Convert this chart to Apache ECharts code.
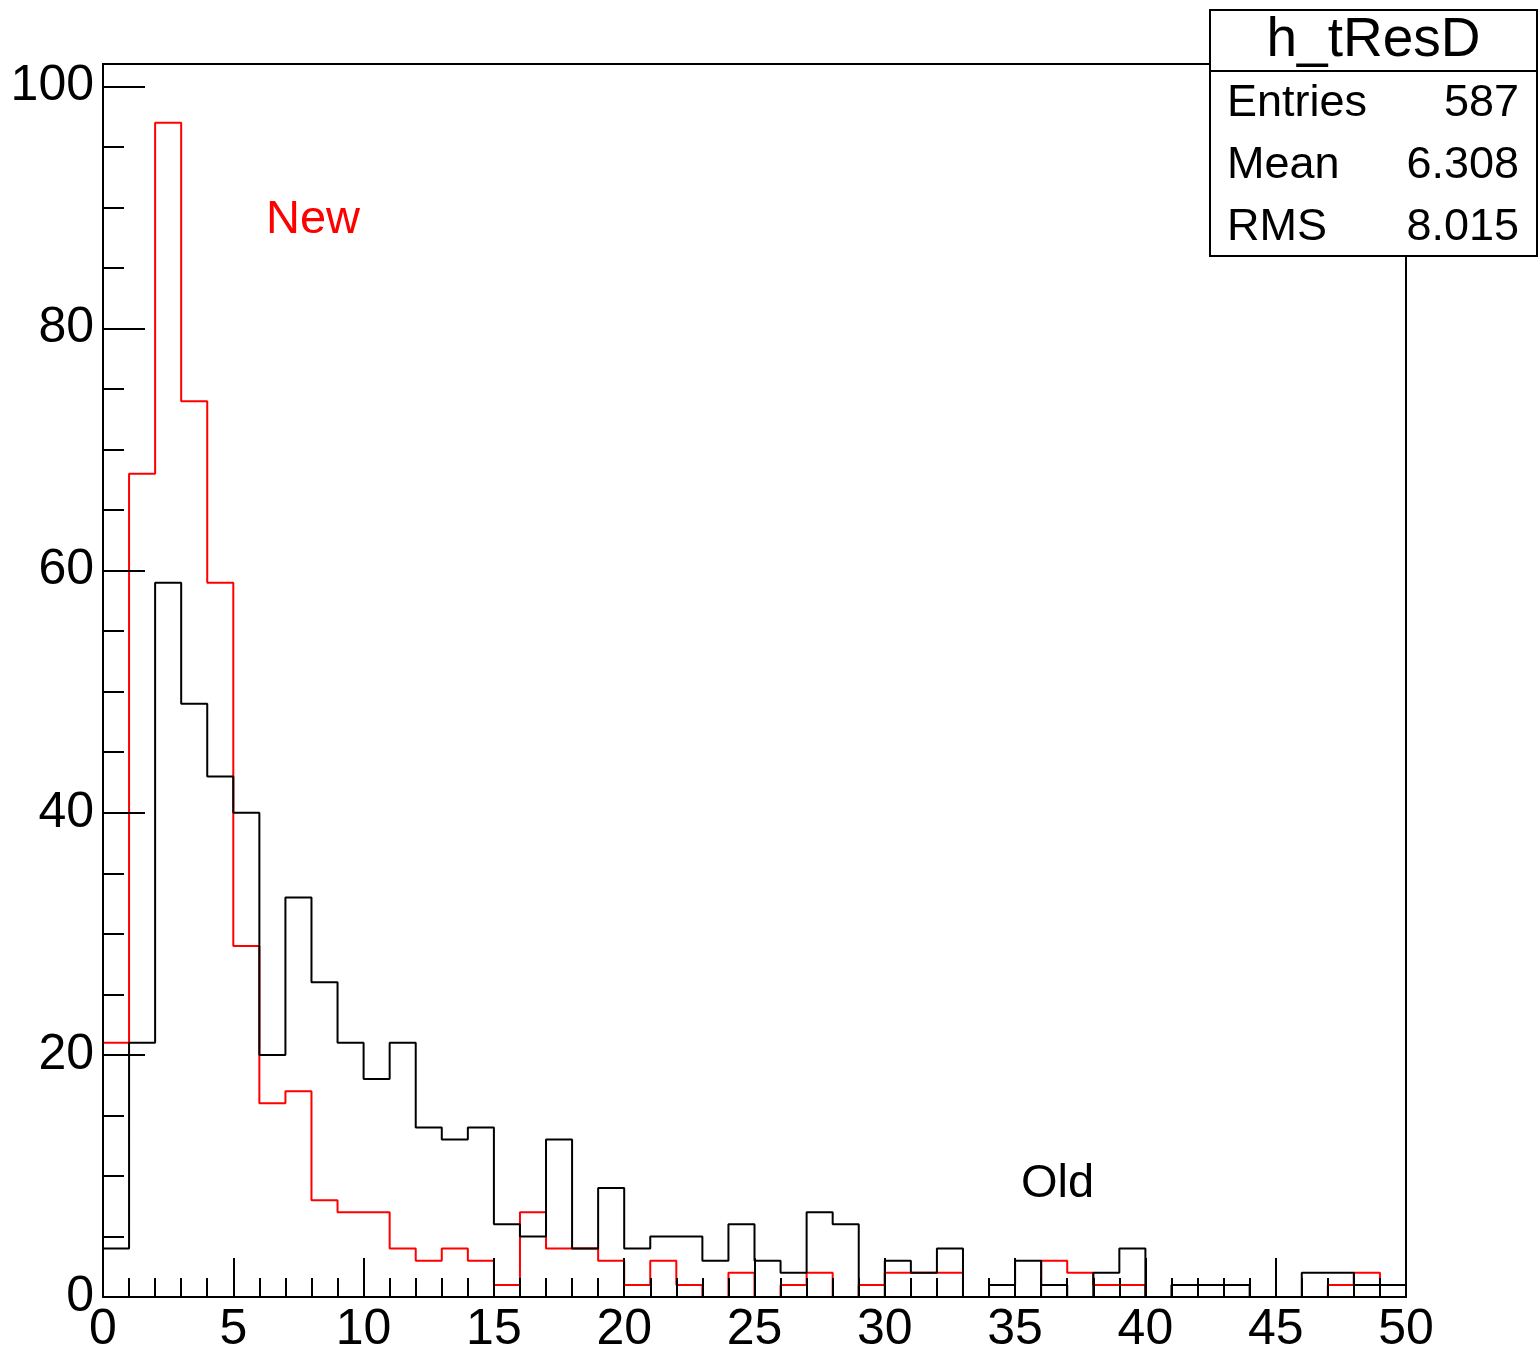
<!DOCTYPE html>
<html>
<head>
<meta charset="utf-8">
<title>h_tResD</title>
<script src="https://cdn.jsdelivr.net/npm/echarts@6/dist/echarts.min.js"></script>
<style>
  html, body { margin: 0; padding: 0; background: #fff; }
  #chart { width: 1539px; height: 1353px; }
</style>
</head>
<body>
<div id="chart"></div>
<script>
// Data (one value per bin of width 1, from 0 to 50)
const binWidth = 1;
const newCounts = [21, 68, 97, 74, 59, 29, 16, 17, 8, 7, 7, 4, 3, 4, 3, 1, 7, 4, 4, 3,
  1, 3, 1, 0, 2, 0, 1, 2, 0, 1, 2, 2, 2, 0, 0, 0, 3, 2, 1, 1,
  0, 0, 0, 0, 0, 0, 0, 1, 2, 1];
const oldCounts = [4, 21, 59, 49, 43, 40, 20, 33, 26, 21, 18, 21, 14, 13, 14, 6, 5, 13, 4, 9,
  4, 5, 5, 3, 6, 3, 2, 7, 6, 0, 3, 2, 4, 0, 1, 3, 1, 0, 2, 4,
  0, 1, 1, 1, 0, 0, 2, 2, 1, 1];

// Axis ticks
const xMajorTicks = [0, 5, 10, 15, 20, 25, 30, 35, 40, 45, 50];
const yMajorTicks = [0, 20, 40, 60, 80, 100];
const yMinorTicks = [0, 5, 10, 15, 20, 25, 30, 35, 40, 45, 50, 55, 60, 65, 70, 75, 80, 85, 90, 95, 100];
const yMax = 101.85;

// Stats box
const statsTitle = 'h_tResD';
const statsNames = ['Entries', 'Mean', 'RMS'];
const statsValues = ['587', '6.308', '8.015'];

const fontName = 'Liberation Sans';

// Turn bin contents into the outline of a histogram (step line)
function histPoints(counts) {
  const pts = [[0, 0]];
  counts.forEach((c, i) => pts.push([i * binWidth, c]));
  const end = counts.length * binWidth;
  pts.push([end, counts[counts.length - 1]]);
  pts.push([end, 0]);
  return pts;
}

const chart = echarts.init(document.getElementById('chart'), null, { renderer: 'canvas' });

// Stats box elements
const boxX = 1210, boxY = 10, boxW = 327, boxH = 246, rowTop = 71;
const statsRows = [];
statsNames.forEach((name, i) => {
  const y = 104 + i * 62;
  statsRows.push({
    type: 'text', x: boxX + 17, y: y,
    style: { text: name, font: '45px ' + fontName, fill: '#000', verticalAlign: 'middle', align: 'left' }
  });
  statsRows.push({
    type: 'text', x: boxX + boxW - 18, y: y,
    style: { text: statsValues[i], font: '45px ' + fontName, fill: '#000', verticalAlign: 'middle', align: 'right' }
  });
});

const options = {
  backgroundColor: '#fff',
  animation: false,
  grid: {
    left: 103, top: 64, right: 133, bottom: 56,
    outerBoundsMode: 'none',
    containLabel: false,
    show: true,
    borderColor: '#000',
    borderWidth: 2,
    backgroundColor: 'transparent'
  },
  xAxis: {
    type: 'value',
    z: 10,
    min: 0, max: 50, interval: 5,
    axisLine: { show: true, onZero: false, lineStyle: { color: '#000', width: 2 } },
    axisTick: { show: true, inside: true, length: 39, lineStyle: { color: '#000', width: 2 } },
    minorTick: { show: true, splitNumber: 5, length: 19, lineStyle: { color: '#000', width: 2 } },
    axisLabel: {
      color: '#000', fontFamily: fontName, fontSize: 50, margin: 8,
      customValues: xMajorTicks
    },
    splitLine: { show: false }
  },
  yAxis: [
    {
      // major ticks + labels
      type: 'value',
      z: 10,
      min: 0, max: yMax,
      position: 'left',
      axisLine: { show: true, onZero: false, lineStyle: { color: '#000', width: 2 } },
      axisTick: { show: true, inside: true, length: 42, customValues: yMajorTicks, lineStyle: { color: '#000', width: 2 } },
      axisLabel: {
        color: '#000', fontFamily: fontName, fontSize: 50, margin: 9,
        padding: [6, 0, 0, 0],
        customValues: yMajorTicks
      },
      splitLine: { show: false }
    },
    {
      // minor ticks only
      type: 'value',
      z: 10,
      min: 0, max: yMax,
      position: 'left',
      axisLine: { show: false },
      axisTick: { show: true, inside: true, length: 21, customValues: yMinorTicks, lineStyle: { color: '#000', width: 2 } },
      axisLabel: { show: false },
      splitLine: { show: false }
    }
  ],
  series: [
    {
      name: 'New',
      type: 'line',
      step: 'end',
      data: histPoints(newCounts),
      showSymbol: false,
      symbol: 'none',
      lineStyle: { color: '#ff0000', width: 2 },
      z: 2
    },
    {
      name: 'Old',
      type: 'line',
      step: 'end',
      data: histPoints(oldCounts),
      showSymbol: false,
      symbol: 'none',
      lineStyle: { color: '#000', width: 2 },
      z: 3
    }
  ],
  graphic: [
    {
      type: 'text', left: 266, top: 197, z: 10,
      style: { text: 'New', font: '47px ' + fontName, fill: '#ff0000' }
    },
    {
      type: 'text', left: 1021, top: 1161, z: 10,
      style: { text: 'Old', font: '47px ' + fontName, fill: '#000' }
    },
    {
      type: 'group', z: 20,
      children: [
        {
          type: 'rect',
          shape: { x: boxX, y: boxY, width: boxW, height: boxH },
          style: { fill: '#fff', stroke: '#000', lineWidth: 2 }
        },
        {
          type: 'line',
          shape: { x1: boxX, y1: rowTop, x2: boxX + boxW, y2: rowTop },
          style: { stroke: '#000', lineWidth: 2 }
        },
        {
          type: 'text', x: boxX + boxW / 2, y: 41,
          style: { text: statsTitle, font: '55px ' + fontName, fill: '#000', align: 'center', verticalAlign: 'middle' }
        }
      ].concat(statsRows)
    }
  ]
};

chart.setOption(options);
</script>
</body>
</html>
